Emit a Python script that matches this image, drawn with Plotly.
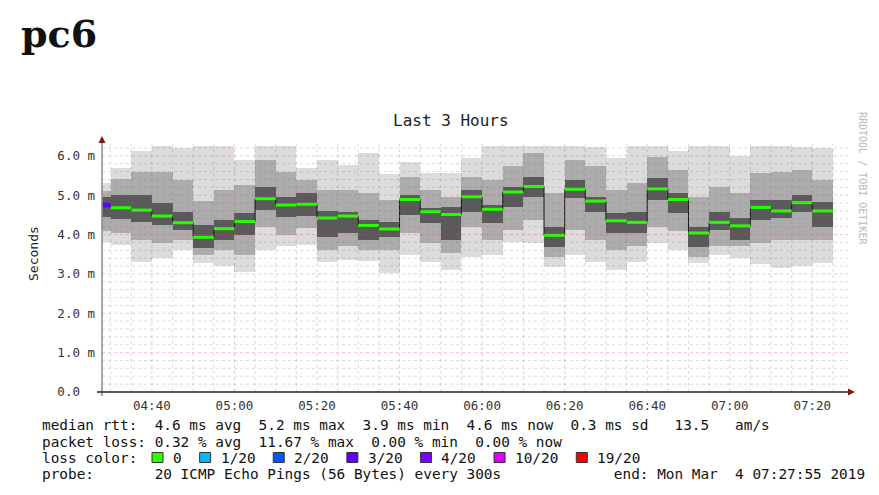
import plotly.graph_objects as go
import pandas as pd

# ---------------- data ----------------
bin_start = pd.date_range("2019-03-04 04:25:00", periods=36, freq="5min")

median = [4.75, 4.68, 4.62, 4.47, 4.30, 3.93, 4.15, 4.33, 4.91, 4.75, 4.77, 4.42,
          4.47, 4.23, 4.14, 4.89, 4.58, 4.51, 4.96, 4.64, 5.08, 5.22, 3.98, 5.15,
          4.85, 4.35, 4.31, 5.16, 4.89, 4.04, 4.31, 4.22, 4.69, 4.60, 4.81, 4.60]

ping_max = [5.30, 5.68, 6.11, 6.25, 6.20, 6.25, 6.25, 5.90, 6.25, 6.25, 5.68, 5.90,
            5.77, 6.06, 5.55, 5.85, 5.56, 5.56, 5.94, 6.25, 6.25, 6.25, 6.25, 6.25,
            6.23, 5.94, 6.25, 6.25, 6.11, 6.25, 6.25, 6.00, 6.25, 6.25, 6.23, 6.19]
mid_hi = [5.10, 5.40, 5.60, 5.60, 5.39, 4.84, 5.13, 5.26, 5.90, 5.60, 5.39, 5.13,
          5.13, 5.05, 4.88, 5.47, 5.13, 4.96, 5.47, 5.39, 5.73, 6.06, 5.05, 5.90,
          5.73, 5.13, 5.30, 5.98, 5.64, 4.96, 5.22, 5.05, 5.56, 5.60, 5.64, 5.39]
in_hi = [4.95, 5.00, 5.01, 4.80, 4.58, 4.24, 4.37, 4.54, 5.20, 4.95, 5.05, 4.60,
         4.58, 4.37, 4.33, 5.00, 4.67, 4.70, 5.13, 4.75, 5.22, 5.47, 4.20, 5.39,
         4.96, 4.54, 4.58, 5.43, 5.05, 4.20, 4.58, 4.41, 4.88, 4.88, 5.00, 4.83]
in_lo = [4.45, 4.40, 4.33, 4.24, 4.12, 3.65, 3.86, 3.99, 4.63, 4.45, 4.46, 3.95,
         4.04, 3.86, 3.95, 4.50, 4.29, 3.86, 4.58, 4.29, 4.71, 4.96, 3.69, 4.92,
         4.58, 4.04, 4.04, 4.88, 4.54, 3.69, 4.12, 3.86, 4.37, 4.41, 4.58, 4.20]
mid_lo = [4.10, 4.05, 3.86, 3.78, 3.86, 3.48, 3.61, 3.48, 4.20, 4.00, 4.16, 3.61,
          3.70, 3.61, 3.61, 4.04, 3.78, 3.52, 4.20, 3.86, 4.12, 4.37, 3.44, 4.12,
          3.86, 3.61, 3.70, 4.20, 4.08, 3.44, 3.70, 3.70, 3.78, 3.86, 3.86, 3.86]
ping_min = [3.80, 3.74, 3.31, 3.40, 3.61, 3.27, 3.19, 3.06, 3.60, 3.70, 3.74, 3.31,
            3.36, 3.32, 3.02, 3.48, 3.31, 3.10, 3.44, 3.48, 3.80, 3.78, 3.17, 3.48,
            3.31, 3.10, 3.31, 3.78, 3.61, 3.27, 3.48, 3.40, 3.26, 3.15, 3.20, 3.28]

# lost pings (of 20) per step
loss = [3, 0, 0, 0, 0, 0, 0, 0, 0, 0, 0, 0, 0, 0, 0, 0, 0, 0,
        0, 0, 0, 0, 0, 0, 0, 0, 0, 0, 0, 0, 0, 0, 0, 0, 0, 0]

loss_labels = ["0", "1/20", "2/20", "3/20", "4/20", "10/20", "19/20"]
loss_levels = [0, 1, 2, 3, 4, 10, 19]
loss_colors = ["#26ff00", "#00b8ff", "#0059ff", "#5e00ff", "#7e00ff", "#dd00ff", "#ff0000"]

y_tickvals = [0, 1, 2, 3, 4, 5, 6]
y_ticktext = ["0.0  ", "1.0 m", "2.0 m", "3.0 m", "4.0 m", "5.0 m", "6.0 m"]

x_start = pd.Timestamp("2019-03-04 04:27:55")
x_end = pd.Timestamp("2019-03-04 07:27:55")

rtt_stats = "median rtt:  4.6 ms avg  5.2 ms max  3.9 ms min  4.6 ms now  0.3 ms sd   13.5   am/s"
loss_stats = "packet loss: 0.32 % avg  11.67 % max  0.00 % min  0.00 % now"
probe_text = "probe:       20 ICMP Echo Pings (56 Bytes) every 300s             end: Mon Mar  4 07:27:55 2019"

# ---------------- geometry helpers ----------------
# the page body has an 8px margin, so the figure is drawn 8px in and 8px down
OFF = 8
W, H = 879 - OFF, 495 - OFF
L, R, T, B = 102 - OFF, 34, 144 - OFF, 103
PW, PH = W - L - R, H - T - B
PLOT_LEFT = L + OFF          # page pixel of plot left
PLOT_BOTTOM = OFF + T + PH   # page pixel of plot bottom
Y_MAX = 6.3


def px(x):
    return (x - PLOT_LEFT) / PW


def py(y):
    return (PLOT_BOTTOM - y) / PH


def nb(s):
    return s.replace(" ", "\u00a0")


MONO = "DejaVu Sans Mono"
step = pd.Timedelta(minutes=5)
centers = bin_start + step / 2
width_ms = 5 * 60 * 1000

fig = go.Figure()

# smoke layers
layers = [(ping_min, ping_max, "#dcdcdc"), (mid_lo, mid_hi, "#acacac"), (in_lo, in_hi, "#5a5a5a")]
for lo, hi, col in layers:
    fig.add_trace(go.Bar(
        x=centers, base=lo, y=[h - l for l, h in zip(lo, hi)], width=width_ms,
        marker=dict(color=col, line=dict(width=0)), hoverinfo="skip", showlegend=False))

# median step line (black risers)
fig.add_trace(go.Scatter(
    x=list(bin_start) + [bin_start[-1] + step], y=median + [median[-1]],
    mode="lines", line=dict(color="#111111", width=1, shape="hv"),
    hoverinfo="skip", showlegend=False))

# median segments coloured by loss
for lvl, col in zip(loss_levels, loss_colors):
    xs, ys = [], []
    for s, m, lo_ in zip(bin_start, median, loss):
        if lo_ == lvl:
            xs += [s, s + step, None]
            ys += [m, m, None]
    if xs:
        fig.add_trace(go.Scatter(x=xs, y=ys, mode="lines",
                                 line=dict(color=col, width=3 if lvl == 0 else 5),
                                 hoverinfo="skip", showlegend=False))

MINOR = "rgba(110,110,110,0.25)"
MAJOR = "rgba(205,90,90,0.35)"
shapes = []
# grid lines drawn over the smoke (as rrdtool does)
t = pd.Timestamp("2019-03-04 04:30:00")
while t < x_end:
    major = (t.minute % 20 == 0)
    shapes.append(dict(type="line", xref="x", yref="paper", x0=t, x1=t, y0=0, y1=1,
                       line=dict(color=MAJOR if major else MINOR, width=1, dash="dot"), layer="above"))
    t += step
for k in range(1, 32):
    v = k * 0.2
    major = (k % 5 == 0)
    shapes.append(dict(type="line", xref="paper", yref="y", x0=0, x1=px(848), y0=v, y1=v,
                       line=dict(color=MAJOR if major else MINOR, width=1, dash="dot"), layer="above"))

# axes lines and arrows
shapes.append(dict(type="line", xref="paper", yref="paper", x0=px(102), x1=px(102), y0=py(396), y1=py(141),
                   line=dict(color="#8a8a8a", width=1.5), layer="above"))
shapes.append(dict(type="line", xref="paper", yref="paper", x0=px(97), x1=px(849), y0=py(392), y1=py(392),
                   line=dict(color="#222222", width=1.5), layer="above"))
shapes.append(dict(type="path", xref="paper", yref="paper",
                   path=f"M {px(102)} {py(136)} L {px(98.5)} {py(143)} L {px(105.5)} {py(143)} Z",
                   fillcolor="#7a1a1a", line=dict(width=0), layer="above"))
shapes.append(dict(type="path", xref="paper", yref="paper",
                   path=f"M {px(855)} {py(392)} L {px(848)} {py(388.5)} L {px(848)} {py(395.5)} Z",
                   fillcolor="#7a1a1a", line=dict(width=0), layer="above"))
# page frame
shapes.append(dict(type="rect", xref="paper", yref="paper", x0=px(5), x1=px(890), y0=py(3), y1=py(510),
                   line=dict(color="#e4e4e4", width=1.5), fillcolor="rgba(0,0,0,0)"))

annotations = []
annotations.append(dict(text="<b>pc6</b>", x=px(19), y=py(34), xref="paper", yref="paper",
                        xanchor="left", yanchor="middle", showarrow=False,
                        font=dict(family="DejaVu Serif", size=38, color="#111111")))
annotations.append(dict(text=nb("Last 3 Hours"), x=px(451), y=py(120), xref="paper", yref="paper",
                        xanchor="center", yanchor="middle", showarrow=False,
                        font=dict(family=MONO, size=16, color="#222222")))
annotations.append(dict(text="Seconds", x=px(33), y=py(254), xref="paper", yref="paper",
                        xanchor="center", yanchor="middle", showarrow=False, textangle=-90,
                        font=dict(family=MONO, size=13, color="#222222")))
annotations.append(dict(text=nb("RRDTOOL / TOBI OETIKER"), x=px(863), y=py(178), xref="paper", yref="paper",
                        xanchor="center", yanchor="middle", showarrow=False, textangle=90,
                        font=dict(family=MONO, size=10, color="#b8b8b8")))

CW = 8.65
LEG = 14.4
for text, yy in [(rtt_stats, 425), (loss_stats, 441.5), ("loss color:", 457.5), (probe_text, 473.5)]:
    annotations.append(dict(text=nb(text), x=px(40), y=py(yy), xref="paper", yref="paper",
                            xanchor="left", yanchor="middle", showarrow=False,
                            font=dict(family=MONO, size=LEG, color="#111111")))

bx = 152.0
for lab, col in zip(loss_labels, loss_colors):
    shapes.append(dict(type="rect", xref="paper", yref="paper", x0=px(bx), x1=px(bx + 11),
                       y0=py(462.5), y1=py(452.5), fillcolor=col, line=dict(color="#333333", width=1)))
    annotations.append(dict(text=nb(lab), x=px(bx + 19), y=py(457.5), xref="paper", yref="paper",
                            xanchor="left", yanchor="middle", showarrow=False,
                            font=dict(family=MONO, size=LEG, color="#111111")))
    bx += 18 + CW * len(lab) + 21

fig.update_layout(
    width=W, height=H, margin=dict(l=L, r=R, t=T, b=B),
    paper_bgcolor="white", plot_bgcolor="white",
    barmode="overlay", bargap=0, showlegend=False,
    shapes=shapes, annotations=annotations,
    xaxis=dict(type="date", range=[x_start, x_end], tick0="2019-03-04 04:40:00",
               dtick=20 * 60 * 1000, tickformat="%H:%M", showgrid=False, zeroline=False,
               showline=False, ticks="", tickfont=dict(family=MONO, size=12.5, color="#333333"),
               ticklabelstandoff=4, fixedrange=True),
    yaxis=dict(range=[0, Y_MAX], tickvals=y_tickvals, ticktext=[nb(s) for s in y_ticktext],
               showgrid=False, zeroline=False, showline=False, ticks="",
               tickfont=dict(family=MONO, size=12.5, color="#333333"),
               ticklabelstandoff=6, fixedrange=True),
)

fig.write_html("out.html")
